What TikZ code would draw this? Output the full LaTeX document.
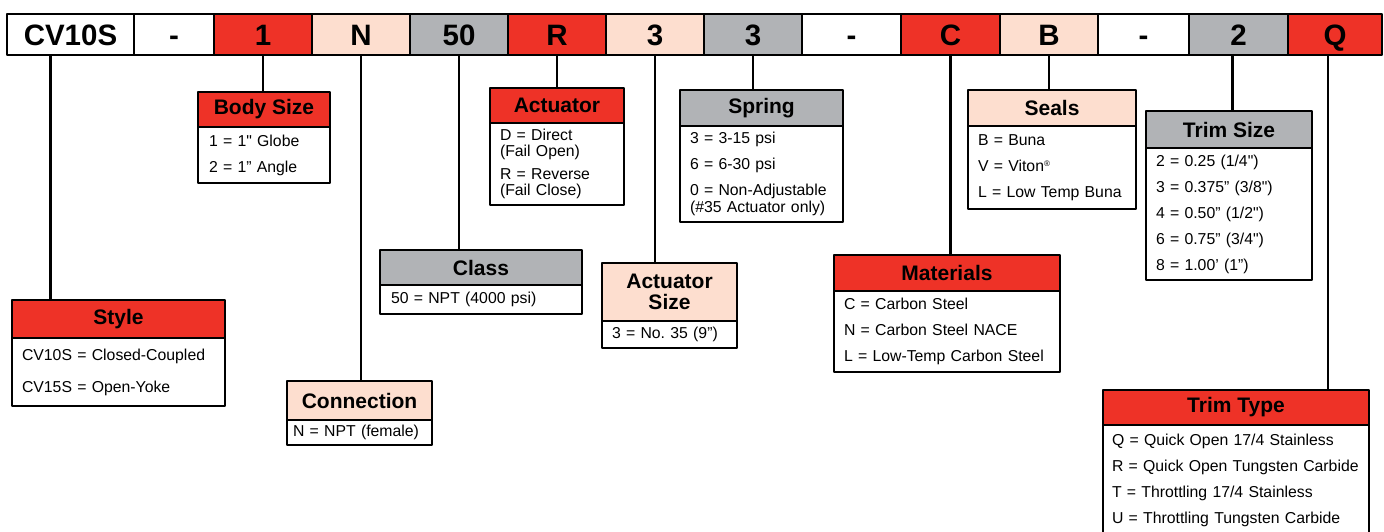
\documentclass[tikz,border=0pt]{standalone}
\usepackage{fontspec}
\setmainfont{Liberation Sans}[Ligatures=TeXOff]
\usetikzlibrary{positioning}
\definecolor{cvred}{RGB}{238,50,39}
\definecolor{cvpeach}{RGB}{253,222,207}
\definecolor{cvgray}{RGB}{177,179,182}
\frenchspacing
\tikzset{
  cell/.style={draw, line width=2.2pt, outer sep=0pt, inner sep=0pt, minimum height=41pt, text height=21pt, text depth=0pt, anchor=west, font=\fontsize{29.5}{30}\selectfont\bfseries},
  hdr/.style={draw, line width=2.2pt, outer sep=0pt, inner sep=0pt, anchor=north west, align=center, font=\fontsize{21}{21}\selectfont\bfseries},
  bodybox/.style={draw, line width=2.2pt, outer sep=0pt, inner xsep=11pt, inner ysep=0pt, fill=white, align=left, below=0pt of #1, font=\fontsize{15.8}{26}\selectfont},
  wire/.style={line width=2.2pt}
}
\begin{document}
\begin{tikzpicture}[x=1pt,y=-1pt,line join=round]
\useasboundingbox (0,0) rectangle (1384,531);
% model code strip
\foreach \n/\x/\w/\t/\c in {cv/7/127/CV10S/white, da/134/80/-/white, bs/214/98/1/cvred, cn/312/98/N/cvpeach, cl/410/98/50/cvgray, ac/508/98/R/cvred, as/606/98/3/cvpeach, sp/704/98/3/cvgray, db/802/99/-/white, mt/901/99/C/cvred, sl/1000/98/B/cvpeach, dc/1098/91/-/white, ts/1189/99/2/cvgray, tt/1288/94/Q/cvred}
  \node[cell, fill=\c, minimum width=\w pt] (\n) at (\x,34.5) {\t};
% legend boxes
\node[hdr, fill=cvred, minimum width=213pt, minimum height=38pt] (hcv) at (12,300) {Style};
\node[bodybox=hcv, text width=193pt, inner xsep=10pt, minimum height=68pt] (bcv) {CV10S = Closed-Coupled\\[6pt]CV15S = Open-Yoke};
\node[hdr, fill=cvred, minimum width=132pt, minimum height=35pt] (hbs) at (198,92) {Body Size};
\node[bodybox=hbs, text width=110pt, minimum height=56pt] (bbs) {1 = 1" Globe\\2 = 1” Angle};
\node[hdr, fill=cvpeach, minimum width=145pt, minimum height=39pt] (hcn) at (287,381) {Connection};
\node[bodybox=hcn, text width=133pt, inner xsep=6pt, minimum height=25pt] (bcn) {N = NPT (female)};
\node[hdr, fill=cvgray, minimum width=202pt, minimum height=35pt] (hcl) at (380,250) {Class};
\node[bodybox=hcl, text width=180pt, minimum height=29pt] (bcl) {50 = NPT (4000 psi)};
\node[hdr, fill=cvred, minimum width=134pt, minimum height=35pt] (hac) at (490,88) {Actuator};
\node[bodybox=hac, text width=114pt, inner xsep=10pt, minimum height=82pt] (bac) {D = Direct\\[-10pt](Fail Open)\\[-3pt]R = Reverse\\[-10pt](Fail Close)};
\node[hdr, fill=cvpeach, minimum width=135pt, minimum height=58pt] (has) at (602,263) {Actuator\\Size};
\node[bodybox=has, text width=115pt, inner xsep=10pt, minimum height=27pt] (bas) {3 = No. 35 (9”)};
\node[hdr, fill=cvgray, minimum width=163pt, minimum height=36pt] (hsp) at (680,90) {Spring};
\node[bodybox=hsp, text width=143pt, inner xsep=10pt, minimum height=96pt] (bsp) {3 = 3-15 psi\\6 = 6-30 psi\\0 = Non-Adjustable\\[-9pt](\#35 Actuator only)};
\node[hdr, fill=cvred, minimum width=226pt, minimum height=36pt] (hmt) at (834,255) {Materials};
\node[bodybox=hmt, text width=206pt, inner xsep=10pt, minimum height=81pt] (bmt) {C = Carbon Steel\\N = Carbon Steel NACE\\L = Low-Temp Carbon Steel};
\node[hdr, fill=cvpeach, minimum width=168pt, minimum height=36pt] (hsl) at (968,90) {Seals};
\node[bodybox=hsl, text width=148pt, inner xsep=10pt, minimum height=83pt] (bsl) {B = Buna\\V = Viton\raisebox{5pt}{\fontsize{8}{8}\selectfont ®}\\L = Low Temp Buna};
\node[hdr, fill=cvgray, minimum width=166pt, minimum height=37pt] (hts) at (1146,111) {Trim Size};
\node[bodybox=hts, text width=146pt, inner xsep=10pt, minimum height=132pt] (bts) {2 = 0.25 (1/4")\\3 = 0.375” (3/8")\\4 = 0.50” (1/2")\\6 = 0.75” (3/4")\\8 = 1.00’ (1”)};
\node[hdr, fill=cvred, minimum width=266pt, minimum height=35pt] (htt) at (1103,390) {Trim Type};
\node[bodybox=htt, text width=248pt, inner xsep=9pt, minimum height=110pt] (btt) {Q = Quick Open 17/4 Stainless\\R = Quick Open Tungsten Carbide\\T = Throttling 17/4 Stainless\\U = Throttling Tungsten Carbide};
% leader lines
\draw[wire] ([xshift=-20pt]cv.south) -- ([xshift=-20pt]cv.south |- hcv.north);
\foreach \n in {bs,cn,cl,ac,as,sp,mt,sl}
  \draw[wire] (\n.south) -- (\n.south |- h\n.north);
\draw[wire] ([xshift=-6pt]ts.south) -- ([xshift=-6pt]ts.south |- hts.north);
\draw[wire] ([xshift=-7pt]tt.south) -- ([xshift=-7pt]tt.south |- htt.north);
\end{tikzpicture}
\end{document}
